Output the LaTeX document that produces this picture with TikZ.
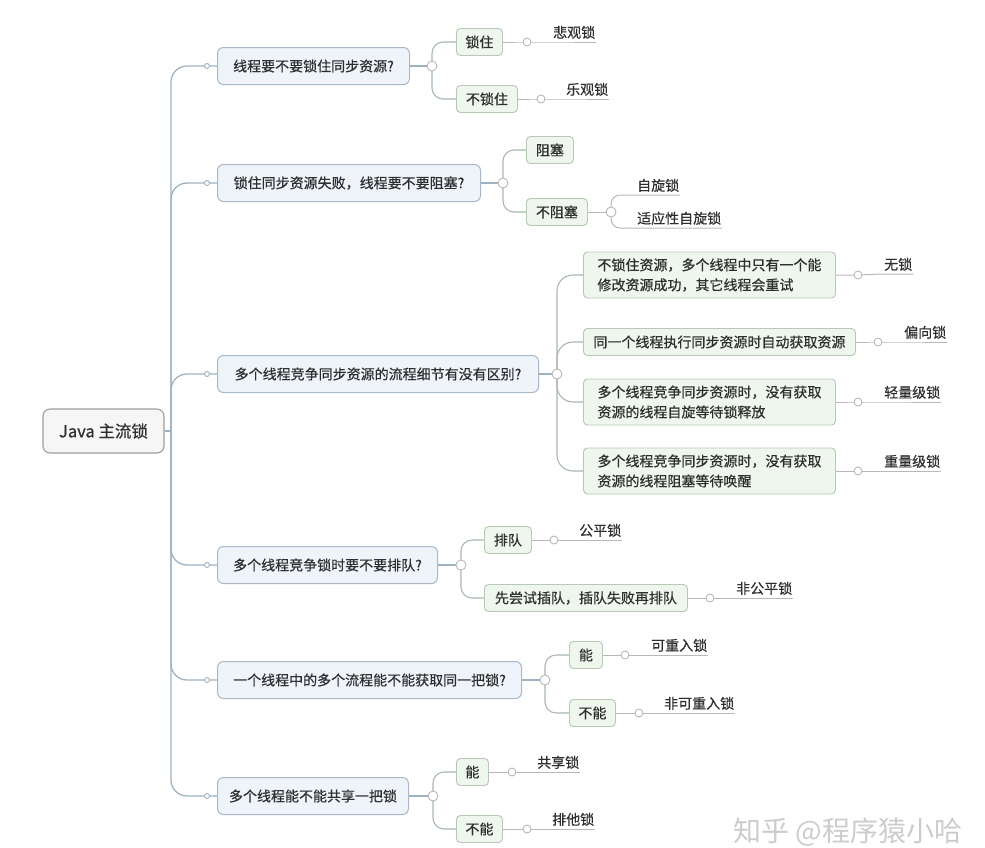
\documentclass[tikz,border=0pt]{standalone}
\usepackage{fontspec}
\newfontfamily\cjk{Noto Sans CJK SC}[FakeBold=0.45]
\newfontfamily\cjkwm{Noto Sans CJK SC}
\usetikzlibrary{backgrounds}
\definecolor{txt}{HTML}{2E2E2E}
\definecolor{lonec}{HTML}{A9B7C6}
\definecolor{lonefill}{HTML}{EEF4FA}
\definecolor{ltwoc}{HTML}{B5C9B5}
\definecolor{ltwofill}{HTML}{EEF6EE}
\definecolor{rootc}{HTML}{9E9E9E}
\definecolor{rootfill}{HTML}{F6F6F6}
\definecolor{trunkc}{HTML}{9FB2C0}
\definecolor{branchc}{HTML}{A8B8AE}
\definecolor{leafc}{HTML}{B8B8B8}
\tikzset{
  basefont/.style={font=\cjk\fontsize{14}{20}\selectfont, text=txt},
  rootbox/.style={draw=rootc, fill=rootfill, rounded corners=7, line width=1.1pt,
    minimum height=44, font=\cjk\fontsize{16.5}{20}\selectfont, text=txt},
  lonebox/.style={basefont, draw=lonec, fill=lonefill, rounded corners=6, line width=1pt,
    minimum height=37, inner xsep=4, anchor=west},
  ltwobox/.style={basefont, draw=ltwoc, fill=ltwofill, rounded corners=4, line width=0.9pt,
    minimum height=27, inner xsep=4, anchor=west},
  multibox/.style={ltwobox, minimum height=46, minimum width=252, align=left},
  leaf/.style={basefont, anchor=south west, inner xsep=1, inner ysep=3},
  jdot/.style={circle, draw=leafc, fill=white, line width=0.9pt, minimum size=10, inner sep=0},
  ldot/.style={circle, draw=leafc, fill=white, line width=0.9pt, minimum size=8, inner sep=0},
  tdot/.style={circle, draw=trunkc, fill=white, line width=0.9pt, minimum size=5, inner sep=0},
  trunk/.style={draw=trunkc, line width=1.3pt},
  branch/.style={draw=branchc, line width=1.1pt},
  leafl/.style={draw=leafc, line width=1pt}
}
\begin{document}
\begin{tikzpicture}[x=1pt,y=-1pt]
\useasboundingbox (0,0) rectangle (985,847);

% root
\node[rootbox, minimum width=121] (root) at (103.5,431) {Java 主流锁};
\coordinate (tr) at (171,431);

% level 1
\node[lonebox, minimum width=192] (q1) at (217,66) {线程要不要锁住同步资源?};
\node[lonebox, minimum width=263] (q2) at (217,183) {锁住同步资源失败，线程要不要阻塞?};
\node[lonebox, minimum width=321] (q3) at (217,374) {多个线程竞争同步资源的流程细节有没有区别?};
\node[lonebox, minimum width=220] (q4) at (217,565) {多个线程竞争锁时要不要排队?};
\node[lonebox, minimum width=304] (q5) at (217,680) {一个线程中的多个流程能不能获取同一把锁?};
\node[lonebox, minimum width=191] (q6) at (217,796) {多个线程能不能共享一把锁};

\node[tdot] (t1) at (207,66) {};
\node[tdot] (t2) at (207,183) {};
\node[tdot] (t3) at (207,374) {};
\node[tdot] (t4) at (207,565) {};
\node[tdot] (t5) at (207,680) {};
\node[tdot] (t6) at (207,796) {};

% branch 1
\node[jdot] (j1) at (432,66) {};
\node[ltwobox, minimum width=46] (a1) at (456,42) {锁住};
\node[ltwobox, minimum width=61] (a2) at (456,99) {不锁住};
\node[ldot] (c1) at (527,42) {};
\node[leaf] (f1) at (552,42) {悲观锁};
\node[ldot] (c2) at (541,99) {};
\node[leaf] (f2) at (565,99) {乐观锁};

% branch 2
\node[jdot] (j2) at (503,183) {};
\node[ltwobox, minimum width=47] (b1) at (526,150) {阻塞};
\node[ltwobox, minimum width=61] (b2) at (526,212) {不阻塞};
\node[jdot] (j2b) at (611,212) {};
\node[leaf] (f3) at (636,195) {自旋锁};
\node[leaf] (f4) at (636,228) {适应性自旋锁};

% branch 3
\node[jdot] (j3) at (557,374) {};
\node[multibox] (m1) at (583,275) {不锁住资源，多个线程中只有一个能\\修改资源成功，其它线程会重试};
\node[ltwobox, minimum width=272] (m2) at (583,342) {同一个线程执行同步资源时自动获取资源};
\node[multibox] (m3) at (583,402) {多个线程竞争同步资源时，没有获取\\资源的线程自旋等待锁释放};
\node[multibox] (m4) at (583,471) {多个线程竞争同步资源时，没有获取\\资源的线程阻塞等待唤醒};
\node[ldot] (c5) at (858,275) {};
\node[leaf] (f5) at (883,274) {无锁};
\node[ldot] (c6) at (878,342) {};
\node[leaf] (f6) at (903,342) {偏向锁};
\node[ldot] (c7) at (858,402) {};
\node[leaf] (f7) at (883,402) {轻量级锁};
\node[ldot] (c8) at (858,471) {};
\node[leaf] (f8) at (883,471) {重量级锁};

% branch 4
\node[jdot] (j4) at (461,565) {};
\node[ltwobox, minimum width=47] (p1) at (484,540) {排队};
\node[ltwobox, minimum width=203] (p2) at (484,598) {先尝试插队，插队失败再排队};
\node[ldot] (c9) at (554,540) {};
\node[leaf] (f9) at (578,540) {公平锁};
\node[ldot] (c10) at (710,598) {};
\node[leaf] (f10) at (735,598) {非公平锁};

% branch 5
\node[jdot] (j5) at (545,680) {};
\node[ltwobox, minimum width=33] (r1) at (569,655) {能};
\node[ltwobox, minimum width=46] (r2) at (569,713) {不能};
\node[ldot] (c11) at (625,655) {};
\node[leaf] (f11) at (650,655) {可重入锁};
\node[ldot] (c12) at (639,713) {};
\node[leaf] (f12) at (663,713) {非可重入锁};

% branch 6
\node[jdot] (j6) at (433,796) {};
\node[ltwobox, minimum width=32] (s1) at (456,772) {能};
\node[ltwobox, minimum width=46] (s2) at (456,829) {不能};
\node[ldot] (c13) at (512,772) {};
\node[leaf] (f13) at (536,772) {共享锁};
\node[ldot] (c14) at (527,829) {};
\node[leaf] (f14) at (551,829) {排他锁};

% watermark
\node[font=\cjkwm\fontsize{28}{30}\selectfont, text=black!20] (wm) at (848,832) {知乎 @程序猿小哈};

\begin{pgfonlayer}{background}
  \draw[trunk] (root.east) -- (tr);
  \foreach \i in {1,...,6} {
    \draw[trunk, rounded corners=16] (tr) |- (t\i.center) -- (q\i.west);
  }
  % branch 1
  \draw[trunk] (q1.east) -- (j1.center);
  \draw[branch, rounded corners=11] (j1.center) |- (a1.west);
  \draw[branch, rounded corners=11] (j1.center) |- (a2.west);
  \draw[leafl] (a1.east) -- (c1.center) -- (f1.south west) -- (f1.south east);
  \draw[leafl] (a2.east) -- (c2.center) -- (f2.south west) -- (f2.south east);
  % branch 2
  \draw[trunk] (q2.east) -- (j2.center);
  \draw[branch, rounded corners=11] (j2.center) |- (b1.west);
  \draw[branch, rounded corners=11] (j2.center) |- (b2.west);
  \draw[leafl] (b2.east) -- (j2b.center);
  \draw[leafl, rounded corners=9] (j2b.center) |- (f3.south west) -- (f3.south east);
  \draw[leafl, rounded corners=9] (j2b.center) |- (f4.south west) -- (f4.south east);
  % branch 3
  \draw[trunk] (q3.east) -- (j3.center);
  \foreach \m in {m1,m2,m3,m4} {
    \draw[branch, rounded corners=16] (j3.center) |- (\m.west);
  }
  \draw[leafl] (m1.east) -- (c5.center) -- (f5.south west) -- (f5.south east);
  \draw[leafl] (m2.east) -- (c6.center) -- (f6.south west) -- (f6.south east);
  \draw[leafl] (m3.east) -- (c7.center) -- (f7.south west) -- (f7.south east);
  \draw[leafl] (m4.east) -- (c8.center) -- (f8.south west) -- (f8.south east);
  % branch 4
  \draw[trunk] (q4.east) -- (j4.center);
  \draw[branch, rounded corners=11] (j4.center) |- (p1.west);
  \draw[branch, rounded corners=11] (j4.center) |- (p2.west);
  \draw[leafl] (p1.east) -- (c9.center) -- (f9.south west) -- (f9.south east);
  \draw[leafl] (p2.east) -- (c10.center) -- (f10.south west) -- (f10.south east);
  % branch 5
  \draw[trunk] (q5.east) -- (j5.center);
  \draw[branch, rounded corners=11] (j5.center) |- (r1.west);
  \draw[branch, rounded corners=11] (j5.center) |- (r2.west);
  \draw[leafl] (r1.east) -- (c11.center) -- (f11.south west) -- (f11.south east);
  \draw[leafl] (r2.east) -- (c12.center) -- (f12.south west) -- (f12.south east);
  % branch 6
  \draw[trunk] (q6.east) -- (j6.center);
  \draw[branch, rounded corners=11] (j6.center) |- (s1.west);
  \draw[branch, rounded corners=11] (j6.center) |- (s2.west);
  \draw[leafl] (s1.east) -- (c13.center) -- (f13.south west) -- (f13.south east);
  \draw[leafl] (s2.east) -- (c14.center) -- (f14.south west) -- (f14.south east);
\end{pgfonlayer}
\end{tikzpicture}
\end{document}
